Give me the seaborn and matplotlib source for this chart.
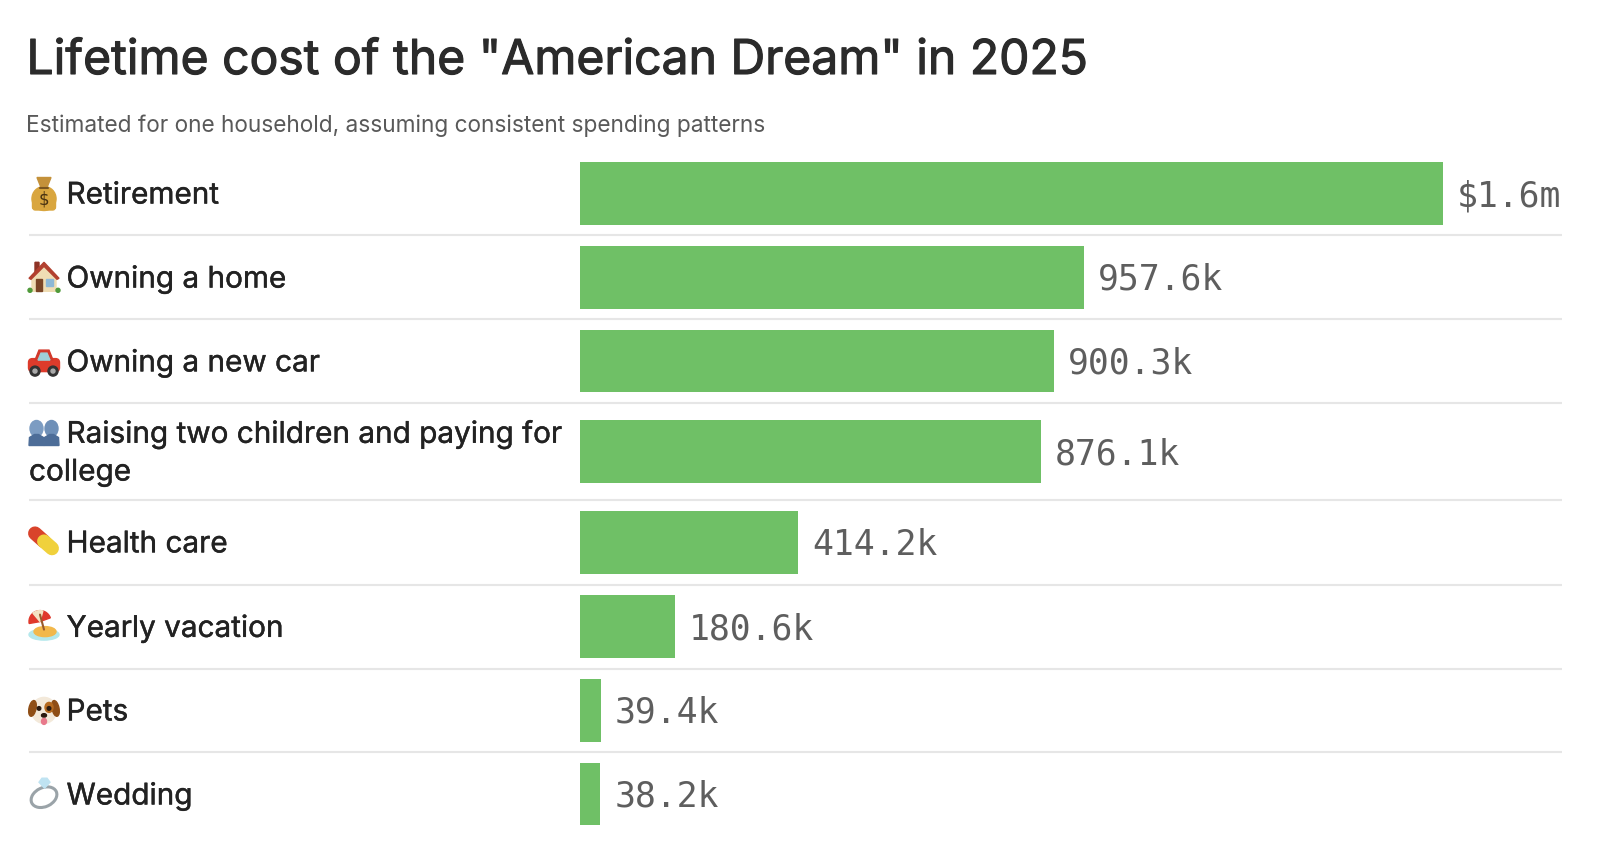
import numpy as np
import pandas as pd
import matplotlib
matplotlib.use("Agg")
import matplotlib.pyplot as plt
import matplotlib.patheffects as pe
import seaborn as sns
from matplotlib.patches import Circle, Ellipse, Polygon, Wedge, FancyBboxPatch

# ── Data ──────────────────────────────────────────────────────────────────────
categories = ["Retirement", "Owning a home", "Owning a new car",
              "Raising two children and paying for\ncollege", "Health care",
              "Yearly vacation", "Pets", "Wedding"]
values_k = [1640, 957.6, 900.3, 876.1, 414.2, 180.6, 39.4, 38.2]
value_labels = ["$1.6m", "957.6k", "900.3k", "876.1k", "414.2k", "180.6k", "39.4k", "38.2k"]
icons = ["bag", "house", "car", "people", "pill", "beach", "dog", "ring"]

TITLE = 'Lifetime cost of the "American Dream" in 2025'
SUBTITLE = "Estimated for one household, assuming consistent spending patterns"

# ── Layout (pixels) ───────────────────────────────────────────────────────────
W, H = 1600, 856
BAR_LEFT, RIGHT, LEFT = 580.2, 1562, 28.5
PX_PER_K = (1443 - BAR_LEFT) / values_k[0]
row_h = np.array([83.8, 83.8, 83.8, 97, 84.7, 83.8, 83.8, 83.8])
edges = 151.6 + np.concatenate([[0], np.cumsum(row_h)])
centres = (edges[:-1] + edges[1:]) / 2

sns.set_theme(style="white")
plt.rcParams["font.family"] = ["Inter", "DejaVu Sans"]

fig = plt.figure(figsize=(W / 100, H / 100), dpi=100, facecolor="white")

# ── Bars ──────────────────────────────────────────────────────────────────────
ax = fig.add_axes([BAR_LEFT / W, 0, (RIGHT - BAR_LEFT) / W, 1])
df = pd.DataFrame({"pos": centres, "value": values_k})
sns.barplot(data=df, x="value", y="pos", orient="y", native_scale=True,
            color="#6FC066", saturation=1, width=62.5 / 83.8, linewidth=0, ax=ax)
ax.set_xlim(0, (RIGHT - BAR_LEFT) / PX_PER_K)
ax.set_ylim(H, 0)
ax.axis("off")

for pos, val, lab in zip(centres, values_k, value_labels):
    ax.annotate(lab, (val, pos - 1), xytext=(10, 0), textcoords="offset points",
                ha="left", va="center_baseline", fontsize=25, color="#5E5E5E",
                family="DejaVu Sans Mono")

# ── Overlay in pixel coordinates: text, rules, icons ──────────────────────────
ov = fig.add_axes([0, 0, 1, 1], zorder=3)
ov.set_xlim(0, W)
ov.set_ylim(H, 0)
ov.axis("off")
ov.patch.set_alpha(0)

ov.text(26.5, 56, TITLE, fontsize=34.6, color="#2B2B2B", ha="left", va="center_baseline",
        path_effects=[pe.withStroke(linewidth=0.8, foreground="#2B2B2B")])
ov.text(26.5, 123.5, SUBTITLE, fontsize=16.3, color="#595959", ha="left", va="center_baseline")

for y in edges[1:-1]:
    ov.plot([LEFT, RIGHT], [y, y], color="#E6E6E6", lw=1.5, solid_capstyle="butt")


def draw_icon(kind, cx, cy):
    add = ov.add_patch
    if kind == "bag":
        add(Ellipse((cx, cy + 5), 24, 24, color="#D9A63F"))
        add(FancyBboxPatch((cx - 10, cy + 4), 20, 11, boxstyle="round,pad=1.5,rounding_size=3", color="#D9A63F"))
        add(Polygon([(cx - 7, cy - 16), (cx + 7, cy - 16), (cx + 3, cy - 6), (cx - 3, cy - 6)], color="#C4913A"))
        ov.plot([cx - 4, cx + 4], [cy - 6, cy - 6], color="#7A5520", lw=1.5)
        ov.text(cx, cy + 6, "$", fontsize=12, color="#4A3312", ha="center", va="center", family="DejaVu Sans")
    elif kind == "house":
        add(Polygon([(cx - 12, cy - 2), (cx, cy - 12), (cx + 12, cy - 2), (cx + 12, cy + 14), (cx - 12, cy + 14)], color="#EFDDB4"))
        add(Polygon([(cx - 9, cy - 15), (cx - 5, cy - 15), (cx - 5, cy - 8), (cx - 9, cy - 4)], color="#8E3326"))
        add(Polygon([(cx - 15, cy + 1), (cx, cy - 15), (cx + 15, cy + 1), (cx + 13, cy + 2), (cx, cy - 11), (cx - 13, cy + 2)], color="#B2402F"))
        add(Polygon([(cx - 8, cy + 2), (cx - 2, cy + 2), (cx - 2, cy + 14), (cx - 8, cy + 14)], color="#7A4526"))
        add(Polygon([(cx + 2, cy + 2), (cx + 9, cy + 2), (cx + 9, cy + 9), (cx + 2, cy + 9)], color="#8DB8D6"))
        add(Ellipse((cx - 14, cy + 13), 4, 4, color="#4F9A3A"))
        add(Ellipse((cx + 14, cy + 13), 4, 4, color="#4F9A3A"))
    elif kind == "car":
        add(FancyBboxPatch((cx - 14, cy - 1), 28, 10, boxstyle="round,pad=1.5,rounding_size=4", color="#DD3B2B"))
        add(Polygon([(cx - 9, cy - 1), (cx - 5, cy - 11), (cx + 5, cy - 11), (cx + 9, cy - 1)], color="#D2382A"))
        add(Polygon([(cx - 6, cy - 1), (cx - 3, cy - 8), (cx + 3, cy - 8), (cx + 6, cy - 1)], color="#9FD0D8"))
        for dx in (-9, 9):
            add(Circle((cx + dx, cy + 10), 5, color="#333333"))
            add(Circle((cx + dx, cy + 10), 2, color="#AAAAAA"))
    elif kind == "people":
        for dx, col in ((-7.5, "#7C9CC2"), (7.5, "#6F90B8")):
            add(Ellipse((cx + dx, cy - 4), 13, 16, color=col))
            add(Polygon([(cx + dx - 7.5, cy + 13), (cx + dx - 7, cy + 5), (cx + dx - 2, cy + 2), (cx + dx + 2, cy + 2),
                         (cx + dx + 7, cy + 5), (cx + dx + 7.5, cy + 13)], color="#4D6D98"))
    elif kind == "pill":
        ov.plot([cx - 9, cx], [cy - 9, cy - 1], color="#D9432B", lw=10, solid_capstyle="round")
        ov.plot([cx, cx + 8], [cy - 1, cy + 6], color="#F0D13C", lw=10, solid_capstyle="round")
    elif kind == "beach":
        add(Ellipse((cx, cy + 8), 30, 11, color="#B4E8EC"))
        add(Ellipse((cx + 1, cy + 5), 22, 10, color="#F2B84B"))
        ov.plot([cx - 4, cx], [cy - 12, cy + 3], color="#9A5A2A", lw=1.5)
        add(Wedge((cx - 4, cy - 5), 11, 170, 340, color="#E0392B"))
        add(Wedge((cx - 4, cy - 5), 11, 230, 285, color="#F4E3C3"))
    elif kind == "dog":
        add(Ellipse((cx, cy), 25, 26, color="#F3E9DA"))
        add(Ellipse((cx - 11.5, cy - 2), 7, 16, angle=12, color="#8F4E16"))
        add(Ellipse((cx + 11.5, cy - 2), 7, 16, angle=-12, color="#8F4E16"))
        add(Ellipse((cx + 5, cy - 3), 8, 10, color="#B56A20"))
        add(Circle((cx - 5, cy - 2), 1.8, color="#2A1A10"))
        add(Circle((cx + 5, cy - 2), 1.8, color="#2A1A10"))
        add(Ellipse((cx, cy + 5), 5, 3.5, color="#2A1A10"))
        add(Ellipse((cx, cy + 11), 5, 6, color="#E8798C"))
    elif kind == "ring":
        add(Ellipse((cx, cy + 3), 27, 19, angle=-25, fill=False, ec="#9AA3A8", lw=2.2))
        add(Polygon([(cx - 5, cy - 12), (cx - 2, cy - 16), (cx + 3, cy - 16), (cx + 6, cy - 12), (cx + 0.5, cy - 6)], color="#BFE3F2"))


label_kw = dict(fontsize=21.4, color="#222222", ha="left", va="center_baseline",
                path_effects=[pe.withStroke(linewidth=0.3, foreground="#222222")])
for cat, kind, pos in zip(categories, icons, centres):
    if "\n" in cat:
        first, second = cat.split("\n")
        draw_icon(kind, 44, pos - 19)
        ov.text(66.5, pos - 20, first, **label_kw)
        ov.text(LEFT + 0.5, pos + 18, second, **label_kw)
    else:
        draw_icon(kind, 44, pos)
        ov.text(66.5, pos - 1, cat, **label_kw)

fig.savefig("out.png", dpi=100, facecolor="white")
